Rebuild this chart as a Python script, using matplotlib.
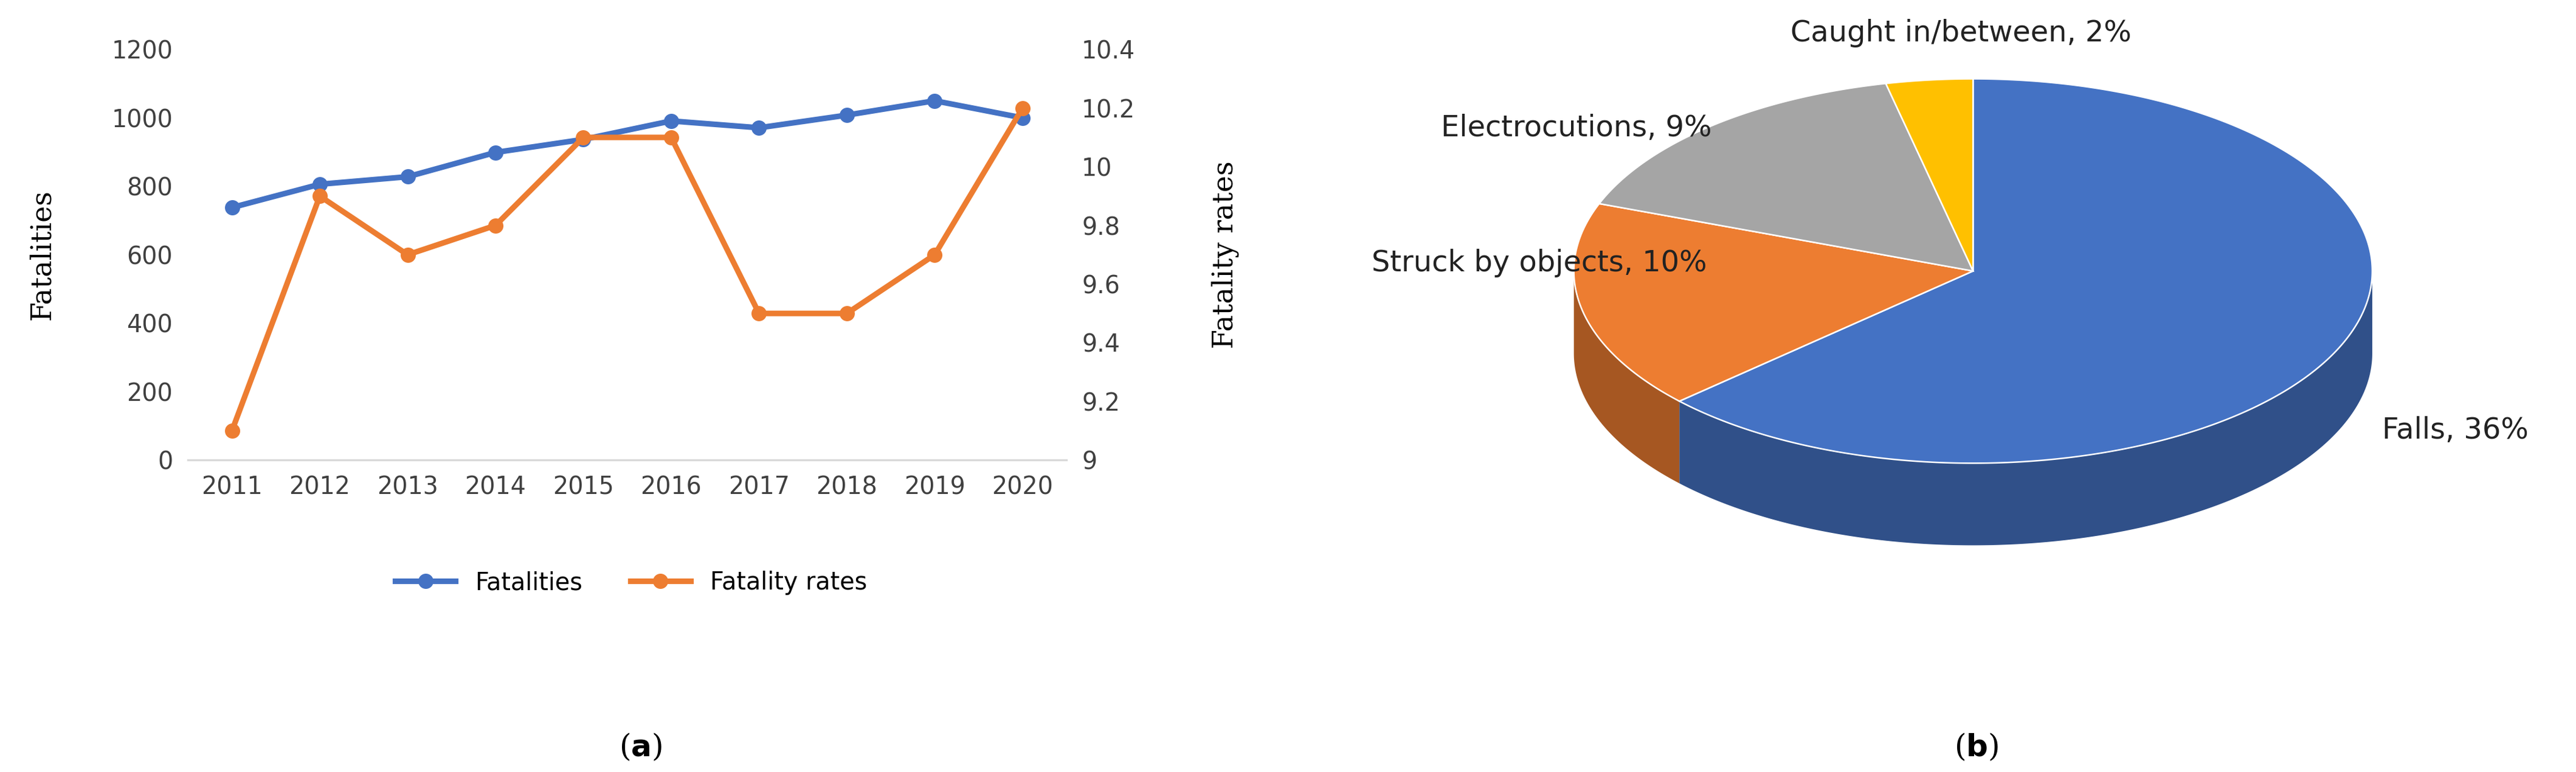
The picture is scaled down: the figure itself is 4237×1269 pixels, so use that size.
import numpy as np
import matplotlib.pyplot as plt
import matplotlib.colors as mc
from matplotlib.lines import Line2D

years = ['2011', '2012', '2013', '2014', '2015', '2016', '2017', '2018', '2019', '2020']
fatalities = [738, 806, 828, 899, 937, 991, 971, 1008, 1050, 1000]
rates = [9.1, 9.9, 9.7, 9.8, 10.1, 10.1, 9.5, 9.5, 9.7, 10.2]

causes = ['Falls', 'Struck by objects', 'Electrocutions', 'Caught in/between']
shares = [36, 10, 9, 2]
pie_colors = ['#4472C4', '#ED7D31', '#A5A5A5', '#FFC000']

blue, orange = '#4472C4', '#ED7D31'
fig = plt.figure(figsize=(4237 / 300, 1269 / 300), dpi=300)

# ---- (a) line chart
ax = fig.add_axes([0.073, 0.404, 0.341, 0.532])
x = np.arange(len(years))
ax.plot(x, fatalities, color=blue, lw=2.2, marker='o', ms=5)
ax.set_ylim(0, 1200)
ax.set_yticks(range(0, 1201, 200))
ax.set_xlim(-0.5, 9.5)
ax.set_xticks(x)
ax.set_xticklabels(years)
ax2 = ax.twinx()
ax2.plot(x, rates, color=orange, lw=2.2, marker='o', ms=5)
ax2.set_ylim(9, 10.4)
ax2.set_yticks([9, 9.2, 9.4, 9.6, 9.8, 10, 10.2, 10.4])
ax2.set_yticklabels(['9', '9.2', '9.4', '9.6', '9.8', '10', '10.2', '10.4'])
for a in (ax, ax2):
    for s in a.spines.values():
        s.set_visible(False)
    a.tick_params(length=0, labelsize=9.5, colors='#404040', pad=6)
ax.spines['bottom'].set_visible(True)
ax.spines['bottom'].set_color('#d9d9d9')
ax.set_ylabel('Fatalities', family='serif', fontsize=11, labelpad=22)
ax2.set_ylabel('Fatality rates', family='serif', fontsize=11, labelpad=30)
handles = [Line2D([], [], color=blue, lw=2.2, marker='o', ms=5),
           Line2D([], [], color=orange, lw=2.2, marker='o', ms=5)]
fig.legend(handles, ['Fatalities', 'Fatality rates'], loc='center',
           bbox_to_anchor=(0.245, 0.245), ncol=2, frameon=False, fontsize=9.5,
           handlelength=2.5)

# ---- (b) 3D-looking pie, drawn in display-pixel coordinates
pa = fig.add_axes([0, 0, 1, 1])
pa.set_xlim(0, 1568)
pa.set_ylim(470, 0)
pa.axis('off')
cx, cy, rx, ry, depth = 1201, 165, 243, 117, 50

def pt(t):
    return cx + rx * np.cos(t), cy - ry * np.sin(t)

def darken(c, f):
    r, g, b = mc.to_rgb(c)
    return (r * f, g * f, b * f)

total = sum(shares)
start = np.pi / 2
bounds = []
for v in shares:
    end = start - 2 * np.pi * v / total
    bounds.append((start, end))
    start = end

# sides
for (a0, a1), c in zip(bounds, pie_colors):
    t = np.linspace(a0, a1, 400)
    m = np.sin(t) <= 0
    if m.sum() < 2:
        continue
    xs, ys = pt(t[m])
    pa.fill(np.concatenate([xs, xs[::-1]]), np.concatenate([ys, ys[::-1] + depth]),
            color=darken(c, 0.7), lw=0)
# tops
for (a0, a1), c in zip(bounds, pie_colors):
    t = np.linspace(a0, a1, 400)
    xs, ys = pt(t)
    pa.fill(np.concatenate([[cx], xs]), np.concatenate([[cy], ys]),
            color=c, ec='white', lw=0.6)

lab = dict(fontsize=11.5, color='#222222')
pa.text(1450, 262, f'{causes[0]}, {shares[0]}%', ha='left', va='center', **lab)
pa.text(835, 160, f'{causes[1]}, {shares[1]}%', ha='left', va='center', **lab)
pa.text(877, 78, f'{causes[2]}, {shares[2]}%', ha='left', va='center', **lab)
pa.text(1090, 20, f'{causes[3]}, {shares[3]}%', ha='left', va='center', **lab)

pa.text(390, 455, '($\\mathbf{a}$)', ha='center', va='center', family='serif', fontsize=12)
pa.text(1203, 455, '($\\mathbf{b}$)', ha='center', va='center', family='serif', fontsize=12)

fig.savefig('out.png', dpi=300)
